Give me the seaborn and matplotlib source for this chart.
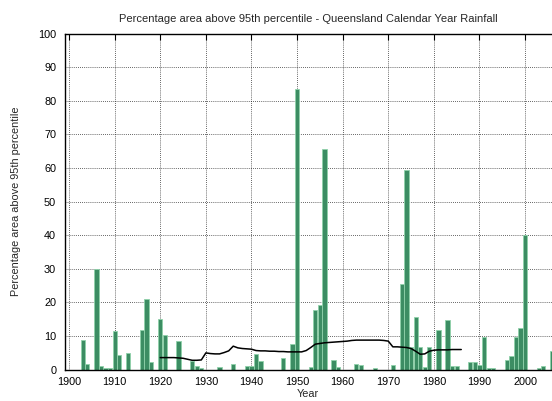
import numpy as np
import pandas as pd
import matplotlib
matplotlib.use("Agg")
import matplotlib.pyplot as plt
import seaborn as sns

# ---- data ----
years = list(range(1900, 2007))
pct_area = [
    0, 0, 0, 8.8, 1.6, 0, 29.9, 1.2, 0.6, 0.6,          # 1900-1909
    11.6, 4.5, 0, 5.0, 0, 0, 11.9, 21.0, 2.2, 0,        # 1910-1919
    15.0, 10.2, 0, 0, 8.4, 0, 0, 2.6, 1.0, 0.6,         # 1920-1929
    0, 0, 0, 0.9, 0, 0, 1.8, 0, 0, 1.2,                 # 1930-1939
    1.2, 4.6, 2.6, 0, 0, 0, 0, 3.6, 0, 7.7,             # 1940-1949
    83.5, 0, 0, 0.8, 17.8, 19.3, 65.5, 0, 2.8, 0.9,     # 1950-1959
    0, 0, 0, 1.6, 1.5, 0, 0, 0.5, 0, 0,                 # 1960-1969
    0, 1.5, 0, 25.4, 59.3, 6.8, 15.6, 6.9, 0.8, 6.7,    # 1970-1979
    0, 11.9, 0, 14.8, 1.0, 1.0, 0, 0, 2.4, 2.4,         # 1980-1989
    1.4, 9.6, 0.6, 0.5, 0, 0, 3.0, 4.2, 9.7, 12.4,      # 1990-1999
    40.0, 0, 0, 0.5, 1.0, 0, 5.6,                       # 2000-2006
]

mean_years = list(range(1920, 1987))
mean_vals = [
    3.6, 3.6, 3.6, 3.6, 3.5, 3.4, 3.1, 2.8, 2.8, 2.9,   # 1920-1929
    5.0, 4.8, 4.7, 4.7, 5.1, 5.6, 7.0, 6.5, 6.3, 6.2,   # 1930-1939
    6.1, 5.7, 5.6, 5.6, 5.5, 5.5, 5.4, 5.4, 5.3, 5.3,   # 1940-1949
    5.3, 5.3, 5.7, 6.6, 7.6, 7.8, 8.0, 8.1, 8.2, 8.3,   # 1950-1959
    8.4, 8.5, 8.7, 8.8, 8.8, 8.8, 8.8, 8.8, 8.8, 8.7,   # 1960-1969
    8.5, 6.8, 6.8, 6.7, 6.6, 6.3, 5.5, 4.6, 4.7, 5.5,   # 1970-1979
    5.8, 5.9, 5.9, 5.9, 6.0, 6.0, 6.0,                  # 1980-1986
]

x_ticks = list(range(1900, 2001, 10))
y_ticks = list(range(0, 101, 10))

title = "Percentage area above 95th percentile - Queensland Calendar Year Rainfall"
xlabel = "Year"
ylabel = "Percentage area above 95th percentile"

# ---- plot ----
sns.set_theme(style="white")
plt.rcParams["font.family"] = ["Liberation Sans", "DejaVu Sans"]

bars_df = pd.DataFrame({"year": years, "pct": pct_area})
line_df = pd.DataFrame({"year": mean_years, "pct": mean_vals})

fig = plt.figure(figsize=(5.52, 4.01), dpi=100)
ax = fig.add_axes([64.5 / 552, 1 - 369.7 / 401, 1 - 64.5 / 552, (369.7 - 33.5) / 401])

sns.barplot(data=bars_df, x="year", y="pct", native_scale=True, width=0.92,
            color="#2f9a62", edgecolor="#8fd1aa", linewidth=0.6,
            errorbar=None, ax=ax, zorder=2)
sns.lineplot(data=line_df, x="year", y="pct", color="black", linewidth=1.1,
             ax=ax, zorder=3)

ax.set_xlim(1899.0, 2005.9)
ax.set_ylim(0, 100)
ax.set_xticks(x_ticks)
ax.set_yticks(y_ticks)
ax.tick_params(axis="both", direction="in", length=4, width=0.8, labelsize=7.8,
               colors="black", top=True, right=False)
ax.tick_params(axis="x", pad=5)
ax.tick_params(axis="y", pad=6)
ax.grid(True, which="major", linestyle=(0, (1, 1.5)), color="black", linewidth=0.6, alpha=0.8)
ax.set_axisbelow(True)
for side in ["left", "bottom", "top"]:
    ax.spines[side].set_color("black")
    ax.spines[side].set_linewidth(1.0)
ax.spines["right"].set_visible(False)

ax.set_title(title, fontsize=8, pad=8)
ax.set_xlabel(xlabel, fontsize=7.8, labelpad=2)
ax.set_ylabel(ylabel, fontsize=7.8, labelpad=12)

fig.savefig("out.png", dpi=100)
